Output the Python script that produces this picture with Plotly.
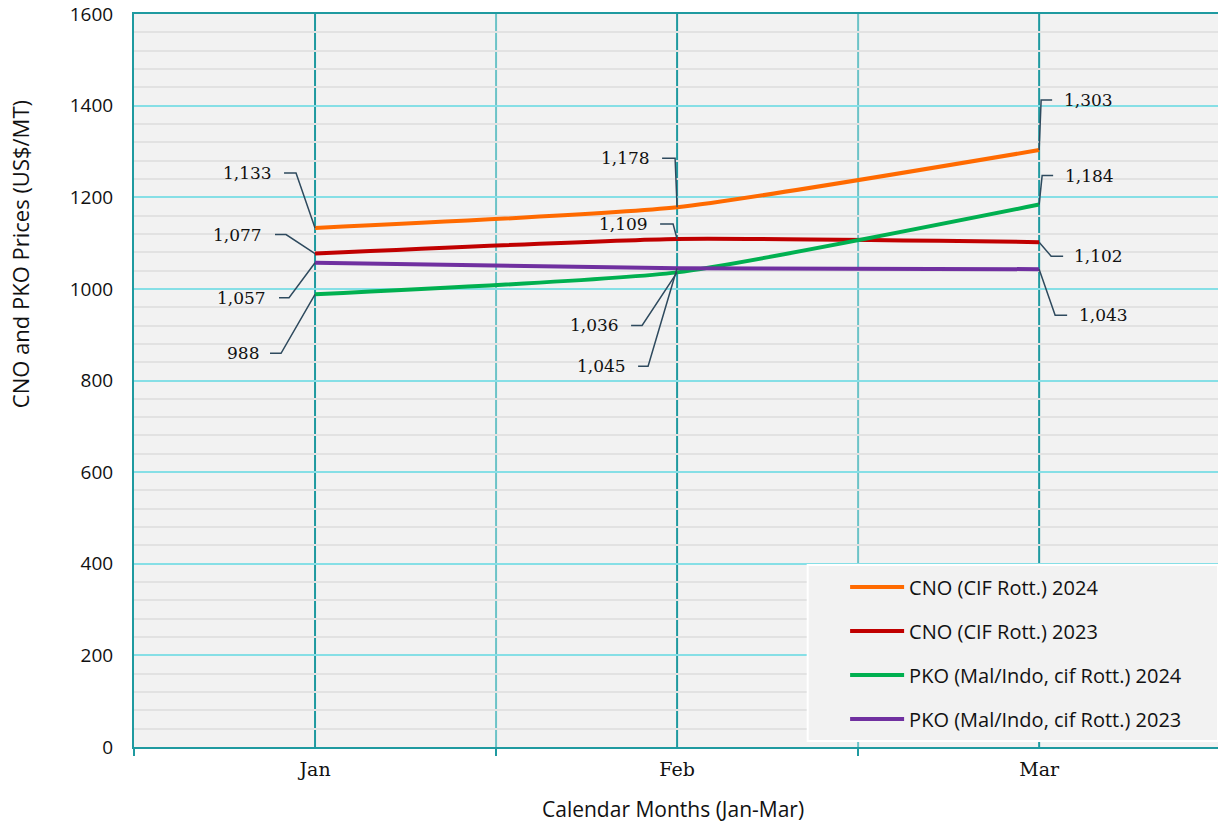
import plotly.graph_objects as go

months = ["Jan", "Feb", "Mar"]
series_names = [
    "CNO (CIF Rott.) 2024",
    "CNO (CIF Rott.) 2023",
    "PKO (Mal/Indo, cif Rott.) 2024",
    "PKO (Mal/Indo, cif Rott.) 2023",
]
cno_2024 = [1133, 1178, 1303]
cno_2023 = [1077, 1109, 1102]
pko_2024 = [988, 1036, 1184]
pko_2023 = [1057, 1045, 1043]
y_ticks = [0, 200, 400, 600, 800, 1000, 1200, 1400, 1600]

colors = ["#FF6A00", "#C00000", "#00B050", "#7030A0"]
values = [cno_2024, cno_2023, pko_2024, pko_2023]

# label leader offsets in screen pixels (dx, dy down) : elbow, horizontal end, text edge
label_offsets = {
    (0, 0): (-19, -55, -31, -41), (1, 0): (-29, -19, -40, -51),
    (3, 0): (-26, 35, -36, -47), (2, 0): (-34, 59, -45, -54),
    (0, 1): (-2, -49, -15, -25), (1, 1): (-4, -15, -17, -27),
    (2, 1): (-35, 53, -46, -56), (3, 1): (-29, 98, -39, -49),
    (0, 2): (2, -50, 13, 23), (2, 2): (3, -29, 14, 24),
    (1, 2): (12, 14, 24, 33), (3, 2): (16, 46, 28, 38),
}

xidx = list(range(len(months)))
fig = go.Figure()
for name, vals, col in zip(series_names, values, colors):
    fig.add_trace(go.Scatter(
        x=xidx, y=vals, name=name, mode="lines",
        line=dict(color=col, width=4, shape="spline", smoothing=0.5),
        legendgroup=name,
    ))

teal = "#1F9AA0"
light_teal = "#6CC3C7"
leader = "#2E4A5E"
shapes = []
# vertical gridlines (category centres and boundaries), drawn above horizontal grid
for i in xidx:
    shapes.append(dict(type="line", xref="x", yref="paper", x0=i, x1=i, y0=0, y1=1,
                       line=dict(color=teal, width=2), layer="between"))
for b in [0.5, 1.5]:
    shapes.append(dict(type="line", xref="x", yref="paper", x0=b, x1=b, y0=0, y1=1,
                       line=dict(color=light_teal, width=2), layer="between"))
# legend backdrop
shapes.append(dict(type="rect", xref="paper", yref="paper", x0=0.6215, x1=1.0,
                   y0=0.0082, y1=0.2483, fillcolor="#F2F2F2",
                   line=dict(color="white", width=2), layer="above"))

annotations = []
for (s, m), (ex, ey, hx, tx) in label_offsets.items():
    v = values[s][m]
    shapes.append(dict(
        type="path", xref="x", yref="y", xsizemode="pixel", ysizemode="pixel",
        xanchor=m, yanchor=v,
        path=f"M 0 0 L {ex} {-ey} L {hx} {-ey}",
        line=dict(color=leader, width=1.5), layer="above",
    ))
    annotations.append(dict(
        x=m, y=v, xref="x", yref="y", text=f"{v:,}", showarrow=False,
        xshift=tx, yshift=-ey, xanchor="right" if tx < 0 else "left",
        yanchor="middle", font=dict(family="DejaVu Serif", size=17, color="#111111"),
    ))

annotations.append(dict(
    text="CNO and PKO Prices (US$/MT)", xref="paper", yref="paper",
    x=-0.105, y=0.6726, textangle=-90, showarrow=False,
    xanchor="center", yanchor="middle",
    font=dict(family="Open Sans", size=22, color="#111111"),
))
annotations.append(dict(
    text="Calendar Months (Jan-Mar)", xref="paper", yref="paper",
    x=0.497, y=-0.084, showarrow=False, xanchor="center", yanchor="middle",
    font=dict(family="Open Sans", size=21, color="#111111"),
))

fig.update_layout(
    width=1218, height=825,
    margin=dict(l=134, r=0, t=14, b=78),
    paper_bgcolor="white", plot_bgcolor="#F2F2F2",
    shapes=shapes, annotations=annotations,
    legend=dict(
        x=0.656, y=0.2449, xanchor="left", yanchor="top",
        bgcolor="rgba(0,0,0,0)", borderwidth=0,
        font=dict(family="Open Sans", size=20, color="#111111"),
        tracegroupgap=15, traceorder="grouped", itemwidth=54,
    ),
    xaxis=dict(
        range=[-0.5, 2.494], tickvals=xidx, ticktext=months,
        showgrid=False, ticks="", ticklabelstandoff=4,
        tickfont=dict(family="DejaVu Serif", size=19, color="#111111"),
        minor=dict(tickvals=[-0.5, 0.5, 1.5, 2.5], showgrid=False,
                   ticks="outside", ticklen=7, tickcolor=teal, tickwidth=2),
        showline=True, linecolor=teal, linewidth=2, mirror=True,
        zeroline=False,
    ),
    yaxis=dict(
        range=[0, 1600], tickvals=y_ticks, showgrid=True, gridcolor="#86DFE6",
        gridwidth=2, ticks="", ticklabelstandoff=15,
        tickfont=dict(family="Open Sans", size=19, color="#111111"),
        minor=dict(dtick=40, showgrid=True, gridcolor="#E2E2E2", gridwidth=2),
        showline=True, linecolor=teal, linewidth=2, mirror=False,
        zeroline=False,
    ),
)

fig.write_html("out.html", config={"displayModeBar": False},
               post_script="document.body.style.margin='0px';")
